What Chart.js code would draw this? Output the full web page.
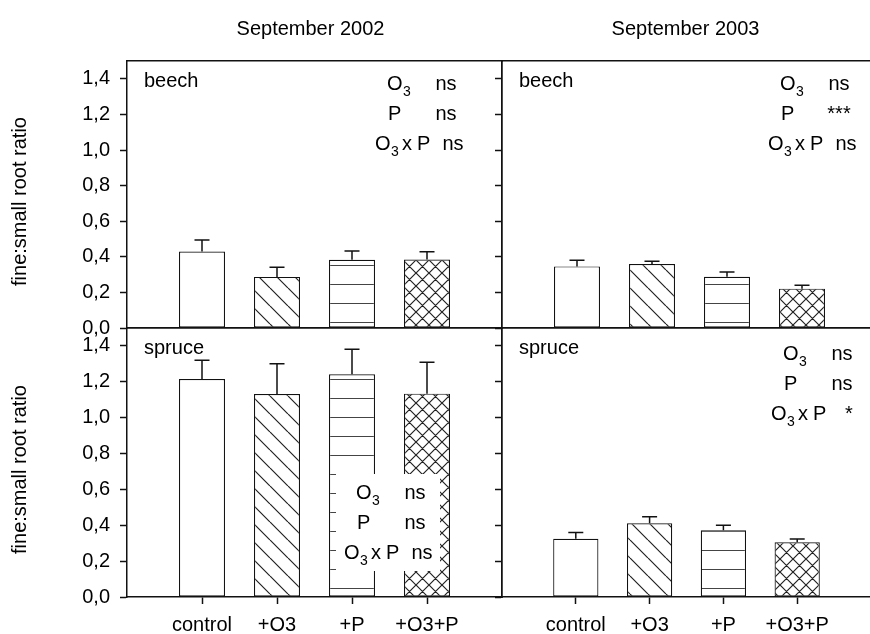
<!DOCTYPE html>
<html>
<head>
<meta charset="utf-8">
<script src="https://cdn.jsdelivr.net/npm/chart.js@4.4.0/dist/chart.umd.min.js"></script>
<style>
html, body { margin: 0; padding: 0; background: #fff; overflow: hidden; }
#wrap { position: relative; width: 870px; height: 634px; overflow: hidden; }
#wrap canvas { position: absolute; left: 0; top: 0; }
</style>
</head>
<body>
<div id="wrap">
  <canvas id="tl" width="880" height="634"></canvas>
  <canvas id="tr" width="880" height="634"></canvas>
  <canvas id="bl" width="880" height="634"></canvas>
  <canvas id="br" width="880" height="634"></canvas>
</div>
<script>
// data
var categories = ['control', '+O3', '+P', '+O3+P'];
var yTickValues = [0, 0.2, 0.4, 0.6, 0.8, 1.0, 1.2, 1.4];
var yMax = 1.5;

var beech2002 = [0.43, 0.287, 0.383, 0.385];
var beech2002Err = [0.065, 0.054, 0.05, 0.043];
var beech2003 = [0.346, 0.359, 0.288, 0.221];
var beech2003Err = [0.035, 0.016, 0.026, 0.019];
var spruce2002 = [1.216, 1.132, 1.242, 1.134];
var spruce2002Err = [0.104, 0.169, 0.139, 0.175];
var spruce2003 = [0.325, 0.411, 0.372, 0.305];
var spruce2003Err = [0.034, 0.037, 0.028, 0.018];

var statRows = ['O3', 'P', 'O3xP'];
var statsBeech2002 = ['ns', 'ns', 'ns'];
var statsBeech2003 = ['ns', '***', 'ns'];
var statsSpruce2002 = ['ns', 'ns', 'ns'];
var statsSpruce2003 = ['ns', 'ns', '*'];

var FONT = "'Liberation Sans', Arial, Helvetica, sans-serif";
var INK = '#111';

function makePattern(kind) {
    var c = document.createElement('canvas');
    var s = kind === 'cross' ? 13 : (kind === 'diag' ? 18 : 19);
    c.width = kind === 'horiz' ? 10 : s;
    c.height = s;
    var g = c.getContext('2d');
    g.fillStyle = '#fff';
    g.fillRect(0, 0, c.width, c.height);
    g.strokeStyle = '#222';
    g.lineWidth = 1.2;
    if (kind === 'horiz') {
        g.fillStyle = '#444';
        g.fillRect(0, s - 1, c.width, 1);
    } else {
        g.beginPath();
        [-s, 0, s].forEach(function (k) {
            g.moveTo(k, 0); g.lineTo(k + s, s);
            if (kind === 'cross') { g.moveTo(k, s); g.lineTo(k + s, 0); }
        });
        g.stroke();
    }
    return g.createPattern(c, 'repeat');
}

var fills = ['#fff', makePattern('diag'), makePattern('horiz'), makePattern('cross')];

// upper error bars with a small cap
var errorBars = {
    id: 'errorBars',
    afterDatasetsDraw: function (chart, args, opts) {
        var ctx = chart.ctx, ys = chart.scales.y;
        var meta = chart.getDatasetMeta(0);
        var data = chart.data.datasets[0].data;
        ctx.save();
        ctx.strokeStyle = INK;
        ctx.lineWidth = 1.5;
        meta.data.forEach(function (bar, i) {
            if (data[i] == null) return;
            var top = ys.getPixelForValue(data[i] + opts.errors[i - 1]);
            ctx.beginPath();
            ctx.moveTo(bar.x, bar.y);
            ctx.lineTo(bar.x, top);
            ctx.moveTo(bar.x - 7.5, top);
            ctx.lineTo(bar.x + 7.5, top);
            ctx.stroke();
        });
        ctx.restore();
    }
};

function drawO3(ctx, x, base) {
    ctx.font = '20px ' + FONT;
    ctx.textAlign = 'left';
    ctx.fillText('O', x, base);
    var w = ctx.measureText('O').width;
    ctx.font = '14px ' + FONT;
    ctx.fillText('3', x + w + 0.5, base + 6);
}

// panel labels, ANOVA table, column titles, axis title
var panelText = {
    id: 'panelText',
    afterDraw: function (chart, args, o) {
        var ctx = chart.ctx, a = chart.chartArea;
        ctx.save();
        ctx.fillStyle = '#000';
        ctx.textBaseline = 'alphabetic';

        if (o.title) {
            ctx.font = '20px ' + FONT;
            ctx.textAlign = 'center';
            ctx.fillText(o.title, (a.left + a.right) / 2 - 4, 35);
        }
        if (o.yTitle) {
            ctx.save();
            ctx.translate(20, (a.top + a.bottom) / 2 + 7);
            ctx.rotate(-Math.PI / 2);
            ctx.font = '20px ' + FONT;
            ctx.textAlign = 'center';
            ctx.textBaseline = 'middle';
            ctx.fillText(o.yTitle, 0, 0);
            ctx.restore();
        }

        ctx.font = '20px ' + FONT;
        ctx.textAlign = 'left';
        ctx.fillText(o.label, a.left + 17, a.top + 26);

        var s = o.stats;
        if (s.box) {
            ctx.fillStyle = '#fff';
            ctx.fillRect(a.left + s.box[0], a.top + s.box[1], s.box[2], s.box[3]);
            ctx.fillStyle = '#000';
        }
        var x0 = a.left + s.x, y0 = a.top + s.y + 7;
        statRows.forEach(function (row, r) {
            var base = y0 + r * 30;
            var vx = x0 + 59;
            if (row === 'O3') {
                drawO3(ctx, x0, base);
            } else if (row === 'P') {
                ctx.font = '20px ' + FONT;
                ctx.textAlign = 'left';
                ctx.fillText('P', x0 + 1, base);
            } else {
                drawO3(ctx, x0 - 12, base);
                ctx.font = '20px ' + FONT;
                ctx.textAlign = 'left';
                ctx.fillText('x', x0 + 15, base);
                ctx.fillText('P', x0 + 30, base);
                vx = x0 + 66;
            }
            ctx.font = '20px ' + FONT;
            ctx.textAlign = 'center';
            ctx.fillText(s.values[r], vx, base);
        });
        ctx.restore();
    }
};

function makePanel(id, p) {
    var labels = [''].concat(categories, ['']);
    var values = [null].concat(p.values, [null]);
    var colors = ['#fff'].concat(fills, ['#fff']);
    var font = { family: FONT, size: 20 };
    var border = { display: true, color: INK, width: 1.5 };

    return new Chart(document.getElementById(id), {
        type: 'bar',
        data: {
            labels: labels,
            datasets: [{
                data: values,
                backgroundColor: colors,
                borderColor: INK,
                borderWidth: 1.2,
                borderSkipped: false,
                categoryPercentage: 0.613,
                barPercentage: 1
            }]
        },
        options: {
            responsive: false,
            animation: false,
            events: [],
            layout: { padding: p.padding },
            plugins: {
                legend: { display: false },
                tooltip: { enabled: false },
                errorBars: { errors: p.errors },
                panelText: p.text
            },
            scales: {
                x: {
                    type: 'category',
                    position: 'bottom',
                    offset: false,
                    border: border,
                    grid: {
                        offset: false,
                        drawOnChartArea: false,
                        drawTicks: p.showX,
                        tickLength: 7,
                        tickWidth: 1.5,
                        tickColor: function (c) {
                            return (c.index === 0 || c.index === 5) ? 'rgba(0,0,0,0)' : INK;
                        }
                    },
                    ticks: { display: p.showX, autoSkip: false, maxRotation: 0, padding: 9, font: font, color: '#000' },
                    afterFit: function (s) { s.height = p.showX ? 37 : 0; }
                },
                xTop: {
                    type: 'category',
                    labels: labels,
                    position: 'top',
                    border: border,
                    grid: { display: false, drawTicks: false },
                    ticks: { display: false },
                    afterFit: function (s) { s.height = 0; }
                },
                y: {
                    type: 'linear',
                    position: 'left',
                    min: 0,
                    max: yMax,
                    border: border,
                    afterBuildTicks: function (s) {
                        s.ticks = yTickValues.map(function (v) { return { value: v }; });
                    },
                    grid: { drawOnChartArea: false, drawTicks: true, tickLength: 7, tickWidth: 1.5, tickColor: INK },
                    ticks: {
                        padding: 10,
                        font: font,
                        color: '#000',
                        callback: function (v) {
                            return p.showY ? v.toFixed(1).replace('.', ',') : '';
                        }
                    },
                    afterFit: function (s) { s.width = 60; }
                },
                yRight: {
                    type: 'linear',
                    position: 'right',
                    min: 0,
                    max: yMax,
                    border: border,
                    grid: { display: false, drawTicks: false },
                    ticks: { display: false },
                    afterFit: function (s) { s.width = 0; }
                }
            }
        },
        plugins: [errorBars, panelText]
    });
}

// chart areas: left column 127..502, right column 502..877 (cut by the page edge)
// top row 61..328, bottom row 328..597
makePanel('tl', {
    values: beech2002, errors: beech2002Err, showX: false, showY: true,
    padding: { left: 67, top: 61, right: 378, bottom: 306 },
    text: {
        title: 'September 2002', yTitle: 'fine:small root ratio', label: 'beech',
        stats: { x: 260, y: 22, values: statsBeech2002 }
    }
});
makePanel('tr', {
    values: beech2003, errors: beech2003Err, showX: false, showY: false,
    padding: { left: 442, top: 61, right: 3, bottom: 306 },
    text: {
        title: 'September 2003', label: 'beech',
        stats: { x: 278, y: 22, values: statsBeech2003 }
    }
});
makePanel('bl', {
    values: spruce2002, errors: spruce2002Err, showX: true, showY: true,
    padding: { left: 67, top: 328, right: 378, bottom: 0 },
    text: {
        yTitle: 'fine:small root ratio', label: 'spruce',
        stats: { x: 229, y: 164, values: statsSpruce2002, box: [209, 146, 104, 97] }
    }
});
makePanel('br', {
    values: spruce2003, errors: spruce2003Err, showX: true, showY: false,
    padding: { left: 442, top: 328, right: 3, bottom: 0 },
    text: {
        label: 'spruce',
        stats: { x: 281, y: 25, values: statsSpruce2003 }
    }
});
</script>
</body>
</html>
